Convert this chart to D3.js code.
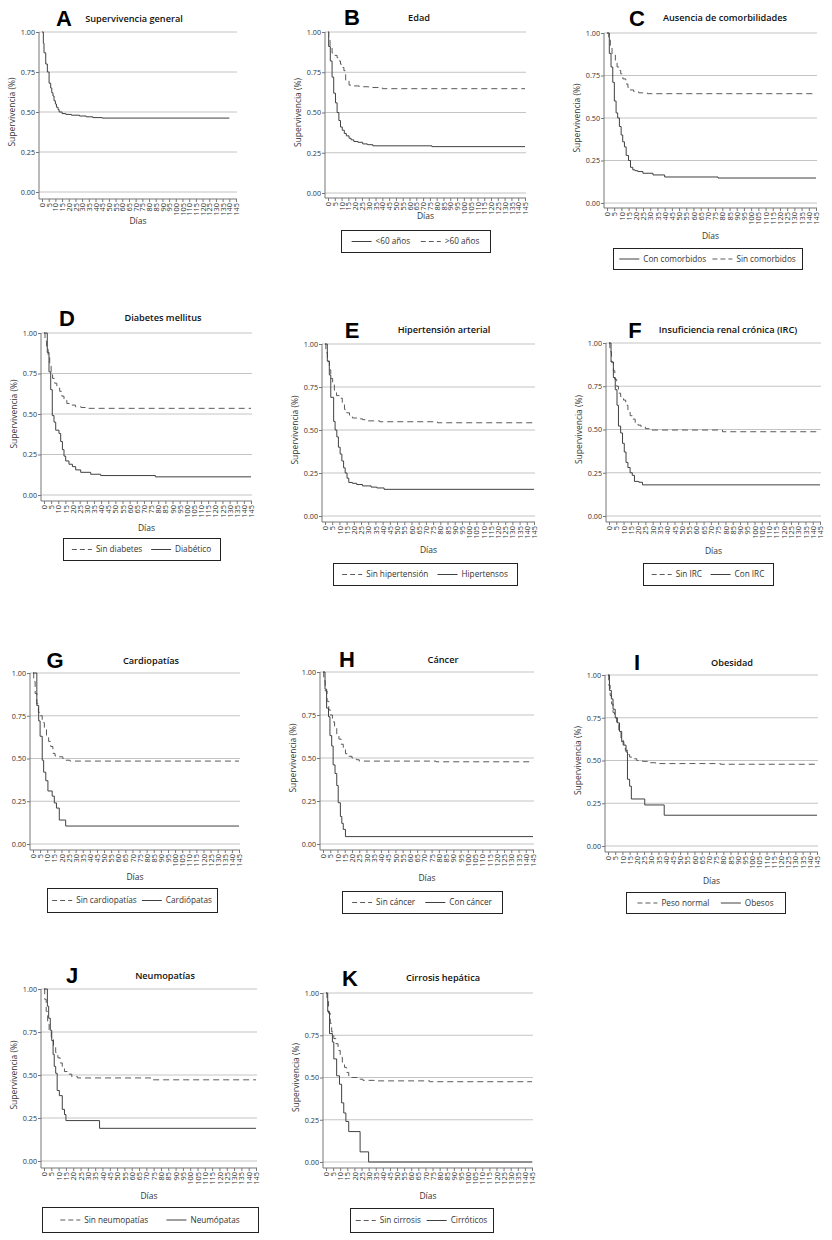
<!DOCTYPE html>
<html>
<head>
<meta charset="utf-8">
<script src="https://cdn.jsdelivr.net/npm/d3@7"></script>
<style>
  body { margin: 0; background: #fff; }
  svg { font-family: "Open Sans", "Noto Sans", sans-serif; }
</style>
</head>
<body>
<svg id="chart" width="832" height="1240"></svg>
<script>
// tick labels
const diasTicks = [0,5,10,15,20,25,30,35,40,45,50,55,60,65,70,75,80,85,90,95,100,105,110,115,120,125,130,135,140,145];
const survTicks = [0, 0.25, 0.5, 0.75, 1];

// [día, supervivencia] at each step
const general = [[0,1],[1,0.93],[1.5,0.87],[2.8,0.80],[4,0.75],[5.3,0.68],[6.5,0.65],[7.3,0.62],[8.2,0.60],[9,0.57],[10,0.55],[10.8,0.53],[12,0.515],[12.8,0.50],[15,0.49],[17.8,0.485],[22,0.48],[28,0.475],[33,0.47],[38,0.465],[45,0.462],[140,0.462]];

const menor60 = [[0,1],[0.5,0.91],[1.7,0.82],[3,0.72],[4.2,0.62],[5.5,0.56],[6.7,0.50],[8,0.45],[9.2,0.41],[10.5,0.39],[12,0.37],[13.5,0.355],[15.5,0.34],[17,0.33],[19,0.32],[22,0.315],[25.5,0.305],[29,0.30],[33,0.293],[76.5,0.288],[145,0.288]];
const mayor60 = [[0,1],[0.5,0.95],[1.5,0.91],[3,0.87],[5,0.855],[6.7,0.84],[8,0.82],[9.2,0.80],[10.5,0.78],[11.7,0.76],[13,0.70],[15.5,0.67],[19,0.665],[23,0.66],[30,0.655],[40,0.648],[145,0.648]];

const conComorb = [[0,1],[1.6,0.88],[2.8,0.80],[4,0.71],[5.1,0.60],[6.3,0.53],[7.4,0.50],[8.6,0.45],[9.8,0.40],[10.9,0.36],[12.1,0.33],[13.3,0.28],[14.9,0.25],[16.3,0.21],[17.9,0.195],[19.5,0.19],[21.4,0.185],[24.9,0.175],[31.9,0.165],[40,0.153],[77,0.147],[145,0.147]];
const sinComorb = [[0,1],[1.2,0.96],[2.3,0.92],[3.5,0.87],[5.8,0.84],[7,0.80],[8.3,0.78],[9.5,0.76],[11,0.73],[13,0.70],[14.5,0.68],[16,0.665],[18.5,0.655],[22,0.648],[28,0.643],[145,0.643]];

const sinDiabetes = [[0,1],[0.7,0.95],[1.8,0.90],[2.9,0.85],[4,0.80],[5,0.76],[6,0.72],[7.5,0.69],[9,0.66],[11,0.64],[12.5,0.61],[14,0.59],[16,0.565],[19,0.555],[22,0.545],[26,0.54],[30,0.535],[145,0.535]];
const diabetico = [[0,1],[2.3,0.88],[3.5,0.76],[4.7,0.65],[5.8,0.49],[7,0.45],[8.2,0.40],[10.5,0.38],[11.7,0.33],[12.9,0.28],[14,0.24],[15.2,0.21],[17.5,0.19],[19.9,0.175],[22.2,0.155],[25.7,0.14],[32.7,0.128],[39.7,0.12],[78,0.112],[145,0.112]];

const sinHTA = [[0,1],[0.6,0.95],[1.7,0.90],[3,0.85],[4,0.80],[5.3,0.77],[6.5,0.73],[8,0.70],[10,0.685],[12,0.65],[13.5,0.62],[15,0.60],[17,0.585],[19,0.57],[22,0.565],[26,0.56],[30,0.553],[38,0.548],[78,0.542],[145,0.542]];
const hipertensos = [[0,1],[1.6,0.90],[3,0.82],[4,0.69],[6,0.55],[7,0.50],[8.2,0.46],[9.3,0.40],[10.5,0.36],[11.7,0.32],[12.9,0.28],[14,0.25],[15.3,0.22],[16.5,0.195],[19,0.19],[22,0.183],[26,0.175],[32,0.168],[36,0.163],[41,0.155],[145,0.155]];

const sinIRC = [[0,1],[0.6,0.95],[1.7,0.89],[3,0.84],[4,0.79],[5.3,0.75],[6.5,0.71],[8,0.69],[10,0.67],[11.5,0.64],[13,0.61],[14.5,0.58],[16,0.56],[18,0.54],[20,0.525],[22,0.515],[25,0.505],[28,0.497],[78,0.487],[145,0.487]];
const conIRC = [[0,1],[1.4,0.89],[3,0.80],[4.3,0.73],[5.5,0.64],[6.5,0.52],[8,0.48],[9.3,0.42],[10.5,0.37],[11.7,0.31],[13,0.28],[14.5,0.25],[16,0.235],[17.5,0.20],[20.5,0.195],[23,0.18],[145,0.18]];

const sinCardio = [[0,1],[0.5,0.95],[1.5,0.88],[2.7,0.82],[3.8,0.77],[5,0.75],[6.5,0.71],[8,0.67],[9.5,0.63],[11,0.60],[12.5,0.57],[14,0.53],[15.5,0.515],[18.5,0.51],[21,0.50],[23,0.49],[26,0.485],[145,0.485]];
const cardiopatas = [[0,1],[2.7,0.81],[4,0.72],[5,0.63],[6.5,0.49],[7.5,0.42],[9,0.37],[10.5,0.31],[13.5,0.28],[15,0.24],[16.5,0.21],[18.5,0.14],[23,0.105],[145,0.105]];

const sinCancer = [[0,1],[0.5,0.95],[1.5,0.89],[2.8,0.83],[4,0.78],[5,0.75],[6.5,0.71],[8,0.68],[9.5,0.64],[11,0.61],[12.5,0.58],[14,0.55],[15.5,0.525],[17,0.51],[20,0.50],[23,0.49],[25,0.482],[78,0.478],[145,0.478]];
const conCancer = [[0,1],[1.4,0.90],[2.5,0.79],[3.8,0.74],[4.8,0.63],[6,0.57],[7,0.46],[8.3,0.41],[9.5,0.34],[10.5,0.24],[12,0.16],[13,0.12],[14,0.085],[15.5,0.043],[145,0.043]];

const pesoNormal = [[0,1],[0.5,0.94],[1.5,0.88],[2.5,0.83],[3.5,0.78],[4.5,0.75],[6,0.71],[7.5,0.67],[9,0.62],[10.5,0.59],[12,0.56],[13.5,0.535],[15,0.52],[17,0.51],[20,0.50],[24,0.495],[28,0.487],[33,0.482],[78,0.478],[145,0.478]];
const obesos = [[0,1],[1,0.91],[2.3,0.86],[3.5,0.80],[5,0.75],[6.5,0.72],[8,0.67],[9.5,0.61],[11,0.59],[12.5,0.55],[13.5,0.39],[15,0.35],[16.2,0.275],[25.5,0.24],[39,0.18],[145,0.18]];

const sinNeumo = [[0,1],[0.5,0.94],[1.5,0.87],[2.5,0.81],[3.5,0.76],[5,0.72],[6.5,0.67],[8,0.63],[9.5,0.60],[11,0.57],[12.5,0.54],[14,0.52],[16,0.505],[19,0.49],[23,0.483],[73,0.472],[145,0.472]];
const neumopatas = [[0,1],[2.3,0.90],[3.2,0.83],[4.3,0.76],[5.3,0.70],[6.2,0.62],[7,0.55],[8,0.51],[9,0.41],[10.5,0.38],[12.5,0.30],[14,0.27],[15,0.235],[38,0.19],[145,0.19]];

const sinCirrosis = [[0,1],[0.7,0.95],[1.8,0.88],[3,0.82],[4,0.77],[5.5,0.73],[7,0.70],[8.5,0.66],[10,0.62],[11.5,0.59],[13,0.56],[14.5,0.53],[16,0.51],[18,0.50],[22,0.49],[26,0.483],[34,0.48],[73,0.475],[145,0.475]];
const cirroticos = [[0,1],[1.2,0.89],[2.5,0.76],[4.5,0.71],[5.5,0.61],[7.5,0.51],[9.5,0.46],[11,0.35],[12.5,0.29],[14,0.24],[16,0.18],[24,0.06],[30,0],[145,0]];

// panel layout (pixels)
const panels = [
  { letter: "A", title: "Supervivencia general", ax: 39, right: 237, top: 32, bot: 192, xaxisY: 199, diasY: 224, lx: 64, ly: 26, tx: 134, ty: 22, ylab: true,
    series: [{ data: general, dash: false }], legend: null },
  { letter: "B", title: "Edad", ax: 325, right: 526, top: 32, bot: 193, xaxisY: 198, diasY: 219, lx: 352, ly: 25, tx: 419, ty: 21, ylab: true,
    series: [{ data: menor60, dash: false, name: "<60 años" }, { data: mayor60, dash: true, name: ">60 años" }],
    legend: { x: 341, y: 230, w: 149, h: 22 } },
  { letter: "C", title: "Ausencia de comorbilidades", ax: 604, right: 817, top: 33, bot: 203, xaxisY: 208, diasY: 239, lx: 637, ly: 26, tx: 725, ty: 21, ylab: true,
    series: [{ data: conComorb, dash: false, name: "Con comorbidos" }, { data: sinComorb, dash: true, name: "Sin comorbidos" }],
    legend: { x: 613, y: 248, w: 189, h: 21 } },
  { letter: "D", title: "Diabetes mellitus", ax: 41, right: 252, top: 333, bot: 495, xaxisY: 501, diasY: 531, lx: 67, ly: 326, tx: 163, ty: 321, ylab: true,
    series: [{ data: sinDiabetes, dash: true, name: "Sin diabetes" }, { data: diabetico, dash: false, name: "Diabético" }],
    legend: { x: 63, y: 538, w: 157, h: 22 } },
  { letter: "E", title: "Hipertensión arterial", ax: 322, right: 535, top: 344, bot: 516, xaxisY: 522, diasY: 553, lx: 352, ly: 338, tx: 444, ty: 333, ylab: true,
    series: [{ data: sinHTA, dash: true, name: "Sin hipertensión" }, { data: hipertensos, dash: false, name: "Hipertensos" }],
    legend: { x: 333, y: 563, w: 184, h: 22 } },
  { letter: "F", title: "Insuficiencia renal crónica (IRC)", ax: 606, right: 821, top: 343, bot: 516, xaxisY: 522, diasY: 554, lx: 635, ly: 338, tx: 728, ty: 333, ylab: true,
    series: [{ data: sinIRC, dash: true, name: "Sin IRC" }, { data: conIRC, dash: false, name: "Con IRC" }],
    legend: { x: 643, y: 563, w: 130, h: 22 } },
  { letter: "G", title: "Cardiopatías", ax: 30, right: 240, top: 673, bot: 844, xaxisY: 850, diasY: 880, lx: 55, ly: 668, tx: 151, ty: 664, ylab: false,
    series: [{ data: sinCardio, dash: true, name: "Sin cardiopatías" }, { data: cardiopatas, dash: false, name: "Cardiópatas" }],
    legend: { x: 47, y: 888, w: 170, h: 24 } },
  { letter: "H", title: "Cáncer", ax: 320, right: 534, top: 672, bot: 844, xaxisY: 850, diasY: 881, lx: 347, ly: 667, tx: 443, ty: 663, ylab: true,
    series: [{ data: sinCancer, dash: true, name: "Sin cáncer" }, { data: conCancer, dash: false, name: "Con cáncer" }],
    legend: { x: 342, y: 891, w: 160, h: 22 } },
  { letter: "I", title: "Obesidad", ax: 605, right: 818, top: 675, bot: 846, xaxisY: 852, diasY: 884, lx: 637, ly: 670, tx: 732, ty: 666, ylab: true,
    series: [{ data: pesoNormal, dash: true, name: "Peso normal" }, { data: obesos, dash: false, name: "Obesos" }],
    legend: { x: 626, y: 892, w: 159, h: 21 } },
  { letter: "J", title: "Neumopatías", ax: 41, right: 257, top: 989, bot: 1161, xaxisY: 1168, diasY: 1199, lx: 72, ly: 983, tx: 165, ty: 979, ylab: true,
    series: [{ data: sinNeumo, dash: true, name: "Sin neumopatías" }, { data: neumopatas, dash: false, name: "Neumópatas" }],
    legend: { x: 42, y: 1207, w: 216, h: 25 } },
  { letter: "K", title: "Cirrosis hepática", ax: 323, right: 533, top: 993, bot: 1162, xaxisY: 1168, diasY: 1199, lx: 350, ly: 986, tx: 443, ty: 981, ylab: true,
    series: [{ data: sinCirrosis, dash: true, name: "Sin cirrosis" }, { data: cirroticos, dash: false, name: "Cirróticos" }],
    legend: { x: 350, y: 1208, w: 143, h: 24 } }
];

const svg = d3.select("#chart");
const solidColor = "#404040";
const dashColor = "#5a5a5a";
const dashPattern = "6,4";

panels.forEach(p => {
  const g = svg.append("g");

  const x = d3.scaleLinear().domain([0, 145]).range([p.ax + 3, p.right - 1]);
  const y = d3.scaleLinear().domain([0, 1]).range([p.bot, p.top]);

  // gridlines
  g.selectAll("line.grid")
    .data(survTicks)
    .enter()
    .append("line")
    .attr("class", "grid")
    .attr("x1", p.ax)
    .attr("x2", p.right)
    .attr("y1", d => y(d))
    .attr("y2", d => y(d))
    .attr("stroke", "#c4c4c4")
    .attr("stroke-width", 1);

  // y axis
  const yAxis = d3.axisLeft(y).tickValues(survTicks).tickSize(3).tickFormat(d3.format(".2f"));
  const yg = g.append("g")
    .attr("transform", `translate(${p.ax}, 0)`)
    .call(yAxis);
  yg.select(".domain").remove();
  yg.selectAll(".tick line").attr("stroke", "#777");
  yg.selectAll(".tick text")
    .attr("fill", "#333")
    .attr("font-size", 7.2)
    .attr("font-family", "Open Sans, sans-serif")
    .attr("x", -4);
  g.append("line")
    .attr("x1", p.ax).attr("x2", p.ax)
    .attr("y1", p.top).attr("y2", p.xaxisY)
    .attr("stroke", "#777");

  // x axis
  const xAxis = d3.axisBottom(x).tickValues(diasTicks).tickSize(3).tickFormat(d3.format("d"));
  const xg = g.append("g")
    .attr("transform", `translate(0, ${p.xaxisY})`)
    .call(xAxis);
  xg.select(".domain").remove();
  xg.selectAll(".tick line").attr("stroke", "#777");
  xg.selectAll(".tick text")
    .attr("fill", "#333")
    .attr("font-size", 7.4)
    .attr("font-family", "Open Sans, sans-serif")
    .attr("transform", "rotate(-90)")
    .attr("text-anchor", "end")
    .attr("x", -4)
    .attr("y", 0)
    .attr("dy", "0.35em");
  g.append("line")
    .attr("x1", p.ax).attr("x2", p.right)
    .attr("y1", p.xaxisY).attr("y2", p.xaxisY)
    .attr("stroke", "#777");

  // axis titles
  g.append("text")
    .attr("x", (p.ax + p.right) / 2)
    .attr("y", p.diasY)
    .attr("text-anchor", "middle")
    .attr("font-size", 8.5)
    .attr("fill", "#333")
    .text("Días");

  if (p.ylab) {
    g.append("text")
      .attr("transform", `translate(${p.ax - 24}, ${(p.top + p.bot) / 2}) rotate(-90)`)
      .attr("text-anchor", "middle")
      .attr("font-size", 8.5)
      .attr("fill", "#333")
      .text("Supervivencia (%)");
  }

  // letter and title
  g.append("text")
    .attr("x", p.lx).attr("y", p.ly)
    .attr("text-anchor", "middle")
    .attr("font-family", "Liberation Sans, Arial, sans-serif")
    .attr("font-weight", "bold")
    .attr("font-size", 22)
    .attr("fill", "#000")
    .text(p.letter);
  g.append("text")
    .attr("x", p.tx).attr("y", p.ty)
    .attr("text-anchor", "middle")
    .attr("font-weight", 600)
    .attr("font-size", 9.2)
    .attr("fill", "#111")
    .text(p.title);

  // survival curves
  const line = d3.line()
    .x(d => x(d[0]))
    .y(d => y(d[1]))
    .curve(d3.curveStepAfter);

  p.series.forEach(s => {
    g.append("path")
      .datum(s.data)
      .attr("d", line)
      .attr("fill", "none")
      .attr("stroke", s.dash ? dashColor : solidColor)
      .attr("stroke-width", 1)
      .attr("stroke-dasharray", s.dash ? dashPattern : null);
  });

  // legend: items spread evenly across the box
  if (p.legend) {
    const L = p.legend;
    g.append("rect")
      .attr("x", L.x + 0.5).attr("y", L.y + 0.5)
      .attr("width", L.w).attr("height", L.h)
      .attr("fill", "#fff")
      .attr("stroke", "#222")
      .attr("stroke-width", 1);

    const sample = 20, textGap = 4;
    const cy = L.y + L.h / 2 + 0.5;
    const parts = p.series.map(s => {
      const t = g.append("text")
        .attr("y", cy)
        .attr("dy", "0.35em")
        .attr("font-size", 8.2)
        .attr("fill", "#333")
        .text(s.name);
      return { s, t, w: sample + textGap + t.node().getComputedTextLength() };
    });
    const used = d3.sum(parts, d => d.w);
    const space = Math.max(4, (L.w - used) / (parts.length + 1));
    let cx = L.x + space;
    parts.forEach(d => {
      g.append("line")
        .attr("x1", cx).attr("x2", cx + sample)
        .attr("y1", cy).attr("y2", cy)
        .attr("stroke", d.s.dash ? dashColor : solidColor)
        .attr("stroke-dasharray", d.s.dash ? "5,3" : null);
      d.t.attr("x", cx + sample + textGap);
      cx += d.w + space;
    });
  }
});
</script>
</body>
</html>
